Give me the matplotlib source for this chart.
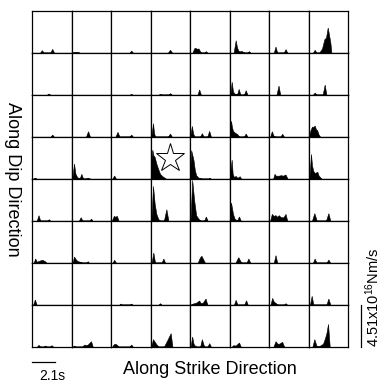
import matplotlib
matplotlib.use("Agg")
import matplotlib.pyplot as plt
import matplotlib.transforms as mtransforms

plt.rcParams['font.family'] = ['Liberation Sans', 'DejaVu Sans']
plt.rcParams['mathtext.fontset'] = 'custom'
plt.rcParams['mathtext.rm'] = 'Liberation Sans'
plt.rcParams['mathtext.it'] = 'Liberation Sans:italic'

# largeur temporelle d'une maille (s) et échelle verticale (1e16 Nm/s)
duree_maille = 3.55
echelle_taux = 4.51
barre_temps = 2.1
hypo_ligne, hypo_col = 3, 3

# fonctions source par maille : (temps s, taux 1e16 Nm/s), de haut en bas
dip_row_1 = [
    [(0.78, 0), (0.93, 0.25), (1.08, 0), (1.70, 0), (1.86, 0.39), (2.02, 0)],
    [(0.15, 0), (0.27, 0.04), (0.6, 0.03), (0.75, 0)],
    [(1.72, 0), (1.86, 0.21), (2.0, 0)],
    [(1.62, 0), (1.80, 0.29), (1.98, 0)],
    [(0.27, 0), (0.42, 0.45), (0.51, 0.5), (0.66, 0.40), (0.81, 0.43), (0.96, 0.1), (1.05, 0),
     (1.35, 0), (1.47, 0.14), (1.59, 0)],
    [(0.42, 0), (0.6, 1.32), (0.72, 0.55), (0.84, 0.2), (1.0, 0.12), (1.14, 0.18), (1.26, 0.05),
     (1.4, 0), (1.65, 0), (1.8, 0.14), (1.92, 0)],
    [(0.48, 0), (0.63, 0.64), (0.78, 0), (1.38, 0), (1.53, 0.36), (1.68, 0)],
    [(0.45, 0), (0.6, 0.29), (0.75, 0), (1.02, 0), (1.26, 0.43), (1.47, 1.43), (1.62, 1.6),
     (1.77, 2.68), (1.86, 2.1), (2.01, 1.07), (2.1, 0)],
]
dip_row_2 = [
    [(1.4, 0), (1.53, 0.1), (1.66, 0)],
    [],
    [(1.75, 0), (1.86, 0.07), (1.97, 0)],
    [(0.78, 0), (0.9, 0.07), (1.02, 0), (1.65, 0), (1.8, 0.14), (1.95, 0)],
    [(0.72, 0), (0.87, 0.54), (1.02, 0)],
    [(0.12, 0), (0.24, 1.37), (0.36, 0.3), (0.5, 0.1), (0.72, 0), (0.87, 0.6), (1.02, 0),
     (1.35, 0), (1.5, 0.46), (1.65, 0)],
    [(0.72, 0), (0.9, 0.96), (1.05, 0)],
    [(0.45, 0), (0.6, 0.21), (0.75, 0), (1.32, 0), (1.5, 1.07), (1.65, 0)],
]
dip_row_3 = [
    [(1.72, 0), (1.86, 0.21), (2.0, 0)],
    [(1.35, 0), (1.53, 0.57), (1.7, 0)],
    [(0.45, 0), (0.63, 0.5), (0.8, 0), (1.72, 0), (1.86, 0.21), (2.0, 0)],
    [(0.12, 0), (0.27, 1.43), (0.36, 0.4), (0.45, 0), (1.62, 0), (1.8, 0.32), (1.95, 0)],
    [(0.06, 0), (0.21, 1.14), (0.33, 0.3), (0.45, 0), (0.96, 0), (1.11, 0.36), (1.26, 0),
     (1.6, 0), (1.77, 0.61), (1.92, 0)],
    [(0.03, 0), (0.18, 1.68), (0.27, 1.0), (0.36, 0.6), (0.54, 0.4), (0.75, 0.25), (0.9, 0),
     (1.35, 0), (1.5, 0.32), (1.65, 0)],
    [(0.15, 0), (0.3, 0.57), (0.45, 0.1), (0.6, 0), (1.08, 0), (1.23, 0.29), (1.38, 0)],
    [(0.09, 0), (0.2, 0.6), (0.36, 1.07), (0.45, 1.0), (0.6, 1.18), (0.72, 0.75), (0.81, 0.71),
     (0.96, 0.2), (1.08, 0)],
]
dip_row_4 = [
    [(0.15, 0), (0.3, 0.04), (0.45, 0)],
    [(0.12, 0), (0.27, 1.6), (0.4, 0.5), (0.55, 0.15), (0.78, 0), (0.93, 0.5), (1.08, 0),
     (1.3, 0), (1.5, 0.05), (1.7, 0)],
    [(0.18, 0), (0.33, 0.32), (0.48, 0)],
    [(0.05, 0), (0.12, 2.0), (0.21, 3.1), (0.3, 2.5), (0.42, 2.3), (0.57, 1.6), (0.72, 1.07),
     (0.9, 0.5), (1.11, 0.25), (1.41, 0)],
    [(0.03, 0), (0.15, 3.04), (0.24, 2.6), (0.36, 1.96), (0.48, 0.9), (0.6, 0.35), (0.8, 0.1),
     (1.1, 0), (1.7, 0), (1.8, 0.05), (1.9, 0)],
    [(0.05, 0), (0.24, 2.03), (0.33, 0.5), (0.45, 0.15), (0.6, 0.28), (0.72, 0.1), (0.84, 0.12),
     (0.96, 0.25), (1.08, 0)],
    [(0.42, 0), (0.54, 0.5), (0.66, 0.3), (0.9, 0.3), (1.14, 0.36), (1.3, 0.3), (1.53, 0.43),
     (1.7, 0)],
    [(0.12, 0), (0.27, 2.64), (0.36, 1.4), (0.48, 0.8), (0.6, 0.6), (0.84, 0.71), (0.96, 0.3),
     (1.2, 0)],
]
dip_row_5 = [
    [(0.48, 0), (0.63, 0.57), (0.78, 0), (1.45, 0), (1.56, 0.14), (1.67, 0)],
    [(0.72, 0), (0.87, 0.36), (1.02, 0), (1.68, 0), (1.8, 0.21), (1.92, 0)],
    [(0.12, 0), (0.3, 0.5), (0.42, 0.4), (0.57, 0.5), (0.72, 0)],
    [(0.12, 0), (0.27, 3.72), (0.42, 1.8), (0.57, 0.7), (0.75, 0.15), (0.9, 0), (1.25, 0),
     (1.47, 1.21), (1.65, 0)],
    [(0.09, 0), (0.24, 4.36), (0.42, 2.15), (0.6, 0.55), (0.81, 0.18), (1.0, 0), (1.32, 0),
     (1.47, 0.43), (1.62, 0)],
    [(0.05, 0), (0.18, 1.93), (0.36, 0.7), (0.5, 0.2), (0.72, 0), (0.9, 0.43), (1.05, 0)],
    [(0.15, 0), (0.3, 0.71), (0.45, 0.5), (0.63, 0.57), (0.78, 0.4), (0.93, 0.57), (1.1, 0.35),
     (1.35, 0.35), (1.53, 0.71), (1.68, 0)],
    [(0.36, 0), (0.57, 0.79), (0.78, 0), (1.62, 0), (1.83, 0.79), (2.0, 0)],
]
dip_row_6 = [
    [(0.2, 0), (0.33, 0.43), (0.48, 0.08), (0.72, 0.2), (0.96, 0.29), (1.2, 0.15), (1.32, 0)],
    [(0.15, 0), (0.27, 0.64), (0.45, 0.3), (0.6, 0.15), (0.9, 0.05), (1.0, 0), (1.4, 0),
     (1.5, 0.14), (1.6, 0)],
    [(0.2, 0), (0.33, 0.29), (0.48, 0)],
    [(0.15, 0), (0.3, 1.07), (0.45, 0), (1.05, 0), (1.2, 0.43), (1.35, 0)],
    [(0.75, 0), (0.9, 0.45), (1.0, 0.65), (1.08, 0.71), (1.25, 0.3), (1.38, 0)],
    [(0.6, 0), (0.75, 0.4), (0.84, 0.57), (1.0, 0.2), (1.1, 0), (1.58, 0), (1.74, 0.43), (1.9, 0)],
    [(0.48, 0), (0.63, 0.79), (0.78, 0)],
    [(0.45, 0), (0.6, 0.43), (0.75, 0), (1.68, 0), (1.83, 0.32), (1.98, 0)],
]
dip_row_7 = [
    [(0.15, 0), (0.3, 0.54), (0.45, 0)],
    [],
    [(0.8, 0), (0.9, 0.1), (1.0, 0), (1.75, 0), (1.86, 0.1), (1.97, 0)],
    [(0.78, 0), (0.9, 0.14), (1.02, 0)],
    [(0.1, 0), (0.3, 0.1), (0.6, 0.2), (0.87, 0.43), (1.0, 0.15), (1.2, 0.2), (1.44, 0.64),
     (1.6, 0)],
    [(0.45, 0), (0.6, 0.5), (0.75, 0), (1.38, 0), (1.53, 0.46), (1.68, 0)],
    [(0.18, 0), (0.33, 0.71), (0.48, 0.3), (0.66, 0.15), (0.8, 0), (1.4, 0), (1.53, 0.14),
     (1.66, 0)],
    [(0.18, 0), (0.33, 0.93), (0.48, 0), (1.66, 0), (1.83, 0.64), (2.0, 0)],
]
dip_row_8 = [
    [(0.5, 0), (0.63, 0.18), (0.76, 0), (1.1, 0), (1.23, 0.1), (1.36, 0), (1.67, 0), (1.8, 0.14),
     (1.93, 0)],
    [(0.15, 0), (0.27, 0.1), (0.4, 0), (1.0, 0), (1.2, 0.21), (1.35, 0.15), (1.5, 0.2),
     (1.8, 0.57), (1.95, 0)],
    [(0.15, 0), (0.3, 0.25), (0.45, 0.29), (0.6, 0.15), (0.72, 0), (1.72, 0), (1.86, 0.21),
     (2.0, 0)],
    [(0.1, 0), (0.27, 0.79), (0.42, 0.5), (0.6, 0.2), (0.75, 0), (1.26, 0), (1.56, 0.7),
     (1.71, 1.07), (1.86, 1.43), (2.01, 0)],
    [(0.1, 0), (0.24, 1.07), (0.36, 0.3), (0.48, 0.1), (0.6, 0), (0.96, 0), (1.11, 0.79),
     (1.26, 0.2), (1.35, 0), (1.62, 0), (1.77, 0.36), (1.92, 0)],
    [(0.25, 0), (0.39, 0.14), (0.6, 0.1), (0.9, 0.43), (1.05, 0)],
    [(0.45, 0), (0.63, 0.57), (0.8, 0.3), (0.95, 0.3), (1.23, 0.5), (1.4, 0)],
    [(0.4, 0), (0.57, 0.79), (0.75, 0.1), (0.95, 0), (1.35, 0.3), (1.5, 0.8), (1.65, 1.4),
     (1.8, 2.43), (1.95, 0)],
]

lignes = [dip_row_1, dip_row_2, dip_row_3, dip_row_4,
          dip_row_5, dip_row_6, dip_row_7, dip_row_8]

fig, axes = plt.subplots(
    8, 8, figsize=(3.82, 3.83), dpi=100,
    gridspec_kw=dict(left=0.0838, right=0.911, bottom=0.094, top=0.9713,
                     wspace=0, hspace=0))

for i, ligne in enumerate(lignes):
    for j, maille in enumerate(ligne):
        ax = axes[i, j]
        if maille:
            t = [p[0] for p in maille]
            a = [p[1] for p in maille]
            ax.fill(t, a, color='black', lw=0.4, ec='black')
        ax.set_xlim(0, duree_maille)
        ax.set_ylim(0, echelle_taux)
        ax.set_xticks([])
        ax.set_yticks([])
        for sp in ax.spines.values():
            sp.set_linewidth(0.9)
            sp.set_color('black')

# épicentre
ax_h = axes[hypo_ligne, hypo_col]
ax_h.plot(0.5, 0.5, marker='*', markersize=21, mfc='white',
          mec='black', mew=0.7, transform=ax_h.transAxes)

# barre d'échelle temporelle
ax_bg = axes[7, 0]
tr = mtransforms.blended_transform_factory(ax_bg.transData, ax_bg.transAxes)
ax_bg.plot([0, barre_temps], [-0.36, -0.36], color='black', lw=0.9, transform=tr, clip_on=False)
ax_bg.text(0.177, -0.69, f"{barre_temps}s", transform=ax_bg.transAxes,
           ha='left', va='center', fontsize=10)

# barre d'échelle d'amplitude
ax_bd = axes[7, 7]
tr = mtransforms.blended_transform_factory(ax_bd.transAxes, ax_bd.transData)
ax_bd.plot([1.34, 1.34], [0, echelle_taux], color='black', lw=0.9, transform=tr, clip_on=False)
ax_bd.text(1.62, 0.0, f"{echelle_taux}x10$^{{16}}$Nm/s", transform=ax_bd.transAxes,
           rotation=90, ha='center', va='bottom', fontsize=10.5)

fig.text(0.034, 0.5327, "Along Dip Direction", rotation=-90, ha='center', va='center',
         fontsize=13)
fig.text(0.5497, 0.034, "Along Strike Direction", ha='center', va='center', fontsize=13)

fig.savefig('out.png', dpi=100)
plt.close(fig)
